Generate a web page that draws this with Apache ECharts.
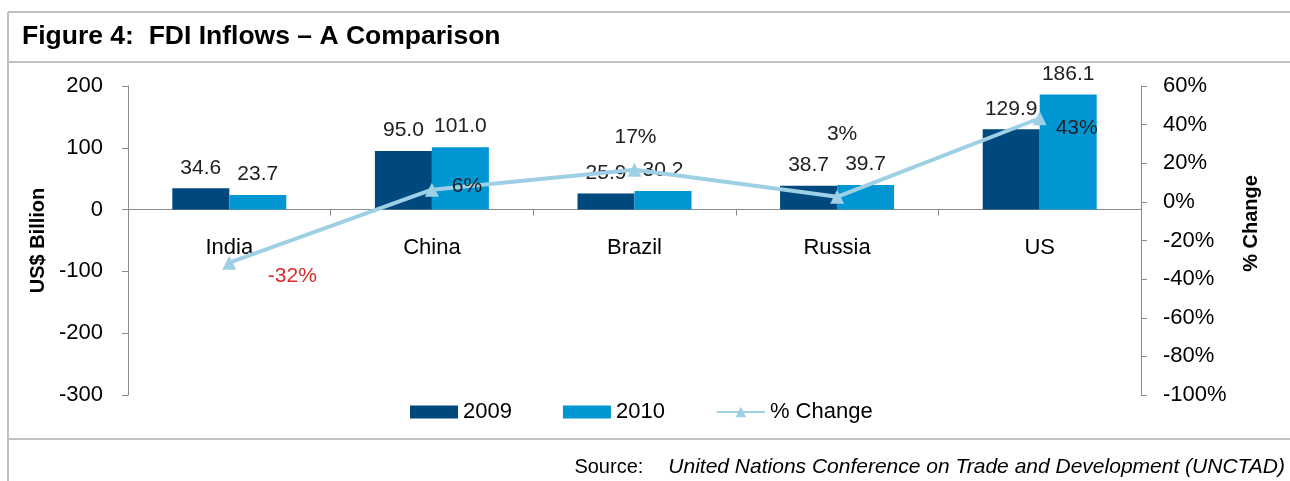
<!DOCTYPE html>
<html lang="en">
  <head>
    <meta charset="UTF-8" />
    <title>FDI Inflows – A Comparison</title>
    <style type="text/css">
      html, body { margin: 0; padding: 0; background: #fff; }
      #main { width: 1290px; height: 481px; }
    </style>
  </head>
  <body>
    <div id="main"></div>
    <script src="https://cdn.jsdelivr.net/npm/echarts@6/dist/echarts.min.js"></script>
    <script>
      // data
      var countries = ["India", "China", "Brazil", "Russia", "US"];
      var fdi2009 = [34.6, 95.0, 25.9, 38.7, 129.9];
      var fdi2010 = [23.7, 101.0, 30.2, 39.7, 186.1];
      var pctChange = [-31.5, 6.3, 16.6, 2.6, 43.3];
      // where each % label sits relative to its marker (as in the original)
      var pctLabelOffsets = [[63, 13], [35, -4], [1, -33], [5, -63], [37, 10]];

      var font = "Liberation Sans, Arial, sans-serif";
      var grey = "#c0c0c0";
      var axisGrey = "#8c8c8c";

      var lineData = pctChange.map(function (v, i) {
        return {
          value: v,
          label: {
            offset: pctLabelOffsets[i],
            color: v < 0 ? "#d92b2b" : "#222"
          }
        };
      });

      // grid: top 86, height 309, zero of left axis sits 2/5 down
      var zeroFromBottom = 309 * 3 / 5;

      var myChart = echarts.init(document.getElementById("main"));
      var option = {
        animation: false,
        textStyle: { fontFamily: font },
        grid: { left: 128, right: 149, top: 86, bottom: 86 },
        legend: {
          left: 405,
          top: 396,
          itemWidth: 48,
          itemHeight: 13,
          itemGap: 51,
          textStyle: { fontSize: 22, color: "#000", fontFamily: font },
          data: [
            { name: "2009", icon: "rect" },
            { name: "2010", icon: "rect" },
            { name: "% Change" }
          ]
        },
        xAxis: {
          type: "category",
          data: countries,
          offset: -zeroFromBottom,
          axisLine: { onZero: false, lineStyle: { color: axisGrey, width: 1 } },
          axisTick: { show: true, length: 6, lineStyle: { color: axisGrey } },
          axisLabel: { fontSize: 22, color: "#000", margin: 27 }
        },
        yAxis: [
          {
            type: "value",
            min: -300,
            max: 200,
            interval: 100,
            name: "US$ Billion",
            nameLocation: "middle",
            nameGap: 80,
            nameRotate: 90,
            nameTextStyle: { fontSize: 20, fontWeight: "bold", color: "#000" },
            axisLine: { show: true, lineStyle: { color: axisGrey } },
            axisTick: { show: true, length: 6, lineStyle: { color: axisGrey } },
            axisLabel: { fontSize: 22, color: "#000", margin: 25 },
            splitLine: { show: false }
          },
          {
            type: "value",
            min: -100,
            max: 60,
            interval: 20,
            position: "right",
            name: "% Change",
            nameLocation: "middle",
            nameGap: 100,
            nameRotate: 90,
            nameTextStyle: { fontSize: 20, fontWeight: "bold", color: "#000", padding: [0, 0, 0, 34] },
            axisLine: { show: true, lineStyle: { color: axisGrey } },
            axisTick: { show: true, length: 6, lineStyle: { color: axisGrey } },
            axisLabel: { fontSize: 22, color: "#000", margin: 22, formatter: "{value}%" },
            splitLine: { show: false }
          }
        ],
        series: [
          {
            name: "2009",
            type: "bar",
            data: fdi2009,
            barWidth: 57,
            barGap: 0,
            itemStyle: { color: "#00497e" },
            label: {
              show: true,
              position: "top",
              distance: 10,
              fontSize: 21,
              color: "#222",
              formatter: function (p) { return p.value.toFixed(1); }
            }
          },
          {
            name: "2010",
            type: "bar",
            data: fdi2010,
            barWidth: 57,
            barGap: 0,
            itemStyle: { color: "#0096d4" },
            label: {
              show: true,
              position: "top",
              distance: 10,
              fontSize: 21,
              color: "#222",
              formatter: function (p) { return p.value.toFixed(1); }
            }
          },
          {
            name: "% Change",
            type: "line",
            yAxisIndex: 1,
            data: lineData,
            symbol: "triangle",
            symbolSize: 14,
            lineStyle: { color: "#9dcfe5", width: 4 },
            itemStyle: { color: "#9dcfe5" },
            z: 5,
            label: {
              show: true,
              position: "inside",
              fontSize: 21,
              formatter: function (p) { return p.value.toFixed(0) + "%"; }
            }
          }
        ],
        graphic: [
          { type: "line", shape: { x1: 8, y1: 12, x2: 1290, y2: 12 }, style: { stroke: grey, lineWidth: 2 } },
          { type: "line", shape: { x1: 8, y1: 62, x2: 1290, y2: 62 }, style: { stroke: grey, lineWidth: 2 } },
          { type: "line", shape: { x1: 8, y1: 439, x2: 1290, y2: 439 }, style: { stroke: grey, lineWidth: 2 } },
          { type: "line", shape: { x1: 8, y1: 12, x2: 8, y2: 481 }, style: { stroke: grey, lineWidth: 2 } },
          {
            type: "text",
            x: 22,
            y: 37,
            style: {
              text: "Figure 4:  FDI Inflows \u2013 A Comparison",
              font: "bold 26.5px " + font,
              fill: "#000",
              textVerticalAlign: "middle"
            }
          },
          {
            type: "text",
            x: 1285,
            y: 467,
            style: {
              text: "{n|Source:}{i|United Nations Conference on Trade and Development (UNCTAD)}",
              textAlign: "right",
              textVerticalAlign: "middle",
              rich: {
                n: { fontSize: 20, fontFamily: font, color: "#000", padding: [0, 25, 0, 0] },
                i: { fontSize: 21, fontFamily: font, fontStyle: "italic", color: "#000" }
              }
            }
          }
        ]
      };
      myChart.setOption(option);
    </script>
  </body>
</html>
